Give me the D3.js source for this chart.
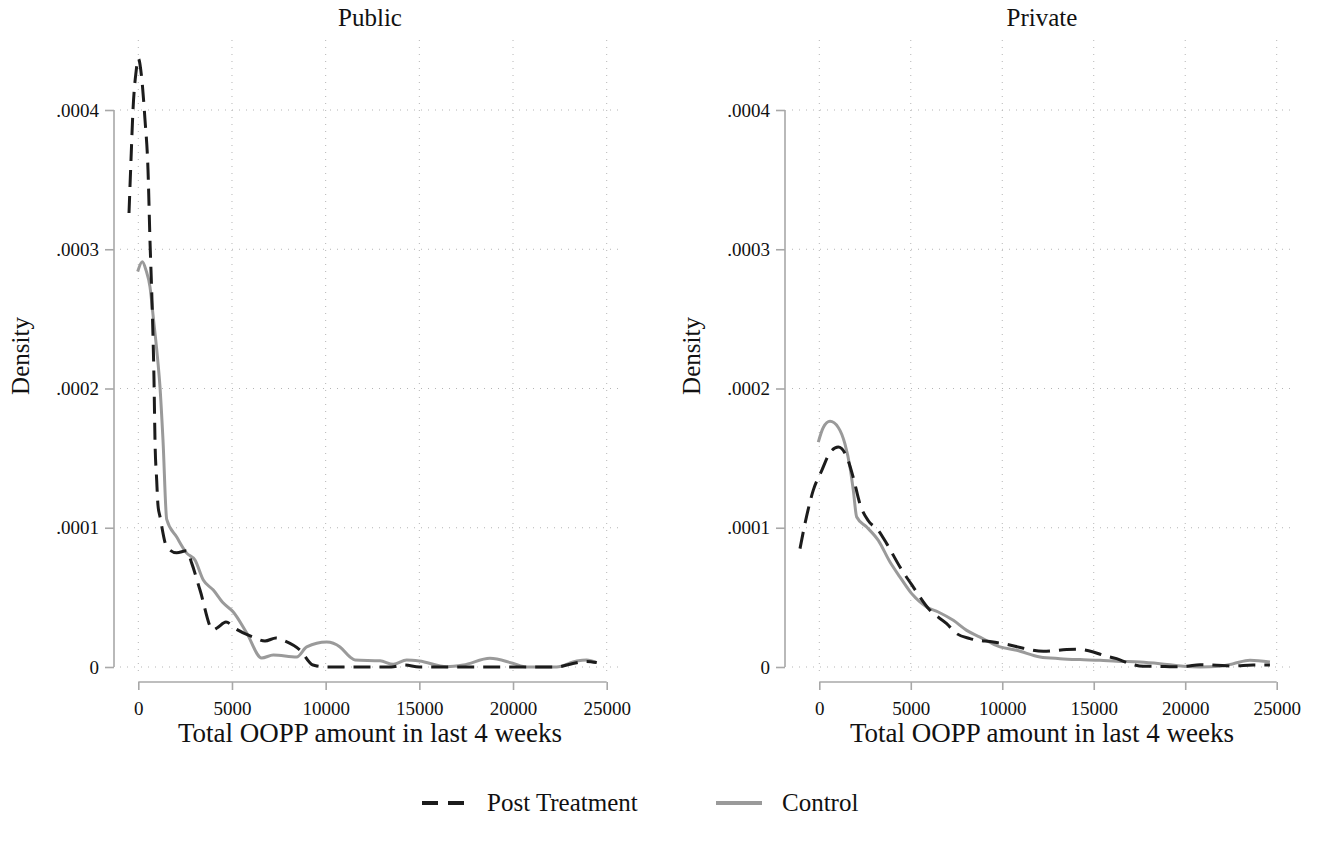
<!DOCTYPE html>
<meta charset="utf-8">
<script src="https://d3js.org/d3.v7.min.js"></script>
<style>
  body { margin: 0; background: #fff; }
  text { font-family: "Liberation Serif", "DejaVu Serif", serif; fill: #111; }
</style>
<div id="my_dataviz"></div>
<script>

// tick values and labels
var xTicks = [0, 5000, 10000, 15000, 20000, 25000];
var yTicks = [0, 0.0001, 0.0002, 0.0003, 0.0004];
var yTickLabels = ["0", ".0001", ".0002", ".0003", ".0004"];
var panelTitles = ["Public", "Private"];
var seriesNames = ["Post Treatment", "Control"];

// Public: post treatment (dashed) [amount, density]
var publicTreat = [
  [-496, 0.000326], [-390, 0.000364], [-283, 0.000400], [-123, 0.000427], [0, 0.000437],
  [181, 0.000423], [357, 0.000393], [518, 0.000357], [624, 0.000306], [731, 0.000263],
  [838, 0.000206], [891, 0.000163], [982, 0.000134], [1051, 0.000116], [1158, 0.000108],
  [1516, 0.0000863], [2050, 0.0000820], [2583, 0.0000835], [2850, 0.0000746], [3293, 0.0000553],
  [3987, 0.0000266], [4200, 0.0000280], [4680, 0.0000323], [5214, 0.0000273], [6122, 0.0000215],
  [6762, 0.0000187], [7349, 0.0000208], [7830, 0.0000187], [8630, 0.0000122], [9323, 0.0000014],
  [10055, 0], [13500, 0], [14200, 0.0000015], [15000, 0], [22330, 0], [23100, 0.0000022],
  [23900, 0.0000040], [24466, 0.0000032]
];
// Public: control (solid grey)
var publicControl = [
  [-32, 0.000284], [213, 0.000291], [411, 0.000285], [624, 0.000273], [800, 0.000251],
  [982, 0.000228], [1158, 0.000201], [1318, 0.000163], [1516, 0.000106], [2050, 0.0000933],
  [2583, 0.0000818], [3026, 0.0000768], [3469, 0.0000624], [4003, 0.0000553], [4537, 0.0000459],
  [5070, 0.0000395], [5786, 0.0000244], [6586, 0.0000065], [7205, 0.0000086], [8454, 0.0000072],
  [8988, 0.0000144], [10055, 0.0000179], [10765, 0.0000144], [11300, 0.0000072], [11566, 0.0000050],
  [12900, 0.0000045], [13610, 0.0000019], [14325, 0.0000050], [15000, 0.0000043], [16460, 0.0000002],
  [17346, 0.0000014], [18770, 0.0000062], [19983, 0.0000027], [20730, 0], [22330, 0],
  [23400, 0.0000043], [23930, 0.0000050], [24466, 0.0000031]
];
// Private: post treatment (dashed)
var privateTreat = [
  [-1055, 0.0000850], [-782, 0.000103], [-328, 0.000127], [131, 0.000141], [585, 0.000154],
  [1038, 0.000158], [1498, 0.000151], [1858, 0.000136], [2224, 0.000117], [2678, 0.000105],
  [3225, 0.0000981], [3684, 0.0000886], [4411, 0.0000718], [5138, 0.0000574], [6050, 0.0000407],
  [6963, 0.0000311], [7510, 0.0000240], [8237, 0.0000204], [9510, 0.0000179], [10243, 0.0000163],
  [11150, 0.0000135], [12243, 0.0000113], [13520, 0.0000125], [14140, 0.0000127], [14976, 0.0000108],
  [15520, 0.0000084], [16250, 0.0000060], [16980, 0.0000024], [17710, 0.0000005], [18440, 0.0000005],
  [19350, 0.0000001], [20080, 0.0000005], [20810, 0.0000017], [21720, 0.0000012], [22630, 0.0000007],
  [23720, 0.0000014], [24630, 0.0000014]
];
// Private: control (solid grey)
var privateControl = [
  [-55, 0.0001615], [219, 0.000172], [585, 0.0001764], [1038, 0.000172], [1405, 0.000160],
  [1678, 0.0001435], [1858, 0.000127], [2044, 0.0001077], [2591, 0.0001005], [3225, 0.0000909],
  [3864, 0.0000754], [4411, 0.0000646], [5050, 0.0000527], [5870, 0.0000431], [6504, 0.0000395],
  [7324, 0.0000335], [8056, 0.0000263], [8783, 0.0000215], [9876, 0.0000144], [10790, 0.0000120],
  [12063, 0.0000072], [13156, 0.0000060], [14250, 0.0000053], [15343, 0.0000048], [16254, 0.0000041],
  [17528, 0.0000036], [18621, 0.0000024], [19895, 0.0000005], [20810, 0], [21903, 0.0000005],
  [22630, 0.0000024], [23540, 0.0000048], [24630, 0.0000036]
];

var width = 1319, height = 844;
var treatColor = "#1c1c1c", controlColor = "#9a9a9a", axisColor = "#a8a8a8";

var svg = d3.select("#my_dataviz")
  .append("svg")
    .attr("width", width)
    .attr("height", height);

// layout of the two panels
var panels = [
  { title: panelTitles[0], treat: publicTreat, control: publicControl,
    axisX: 114, xRange: [138.3, 606.7], plotX: [120, 620] },
  { title: panelTitles[1], treat: privateTreat, control: privateControl,
    axisX: 785, xRange: [819.3, 1276.7], plotX: [792, 1292] }
];

var y = d3.scaleLinear().domain([0, 0.0004]).range([667, 110]);
var plotTop = 40, plotBottom = 677, xAxisY = 682;

panels.forEach(function(p) {
  var x = d3.scaleLinear().domain([0, 25000]).range(p.xRange);
  var g = svg.append("g");

  // dotted grid
  g.selectAll(".hgrid").data(yTicks).enter().append("line")
    .attr("x1", p.plotX[0]).attr("x2", p.plotX[1])
    .attr("y1", function(d) { return y(d); }).attr("y2", function(d) { return y(d); })
    .attr("stroke", "#b5b5b5").attr("stroke-width", 1).attr("stroke-dasharray", "1,6");
  g.selectAll(".vgrid").data(xTicks).enter().append("line")
    .attr("x1", function(d) { return x(d); }).attr("x2", function(d) { return x(d); })
    .attr("y1", plotTop).attr("y2", plotBottom)
    .attr("stroke", "#b5b5b5").attr("stroke-width", 1).attr("stroke-dasharray", "1,6");

  // y axis
  var yAxis = g.append("g")
    .attr("transform", "translate(" + p.axisX + ",0)")
    .call(d3.axisLeft(y).tickValues(yTicks).tickSize(9).tickPadding(6)
      .tickFormat(function(d, i) { return yTickLabels[i]; }));
  // x axis
  var xAxis = g.append("g")
    .attr("transform", "translate(0," + xAxisY + ")")
    .call(d3.axisBottom(x).tickValues(xTicks).tickSize(8).tickPadding(12)
      .tickFormat(d3.format("d")));
  [yAxis, xAxis].forEach(function(a) {
    a.select(".domain").attr("stroke", axisColor).attr("stroke-width", 1.6);
    a.selectAll(".tick line").attr("stroke", axisColor).attr("stroke-width", 1.6);
    a.selectAll("text").style("font-size", "19px")
      .style("font-family", "'Liberation Serif', serif").attr("fill", "#111");
  });
  yAxis.select(".domain").attr("d", "M0," + y(0.0004) + "V" + y(0));
  xAxis.select(".domain").attr("d", "M" + x(0) + ",0H" + x(25000));

  // curves
  var line = d3.line()
    .x(function(d) { return x(d[0]); })
    .y(function(d) { return y(d[1]); })
    .curve(d3.curveMonotoneX);
  g.append("path").datum(p.control)
    .attr("fill", "none").attr("stroke", controlColor).attr("stroke-width", 3)
    .attr("d", line);
  g.append("path").datum(p.treat)
    .attr("fill", "none").attr("stroke", treatColor).attr("stroke-width", 3)
    .attr("stroke-dasharray", "17,9")
    .attr("d", line);

  var cx = (p.plotX[0] + p.plotX[1]) / 2;
  g.append("text").attr("x", cx).attr("y", 26)
    .attr("text-anchor", "middle").style("font-size", "25px").text(p.title);
  g.append("text").attr("x", cx).attr("y", 742)
    .attr("text-anchor", "middle").style("font-size", "27px")
    .text("Total OOPP amount in last 4 weeks");
  g.append("text")
    .attr("transform", "translate(" + (p.axisX - 85) + ",356) rotate(-90)")
    .attr("text-anchor", "middle").style("font-size", "25px").text("Density");
});

// legend
var legend = svg.append("g");
legend.append("line").attr("x1", 422).attr("x2", 470).attr("y1", 803).attr("y2", 803)
  .attr("stroke", treatColor).attr("stroke-width", 4).attr("stroke-dasharray", "16,10");
legend.append("text").attr("x", 487).attr("y", 811).style("font-size", "25px").text(seriesNames[0]);
legend.append("line").attr("x1", 716).attr("x2", 762).attr("y1", 803).attr("y2", 803)
  .attr("stroke", controlColor).attr("stroke-width", 4);
legend.append("text").attr("x", 782).attr("y", 811).style("font-size", "25px").text(seriesNames[1]);

</script>
